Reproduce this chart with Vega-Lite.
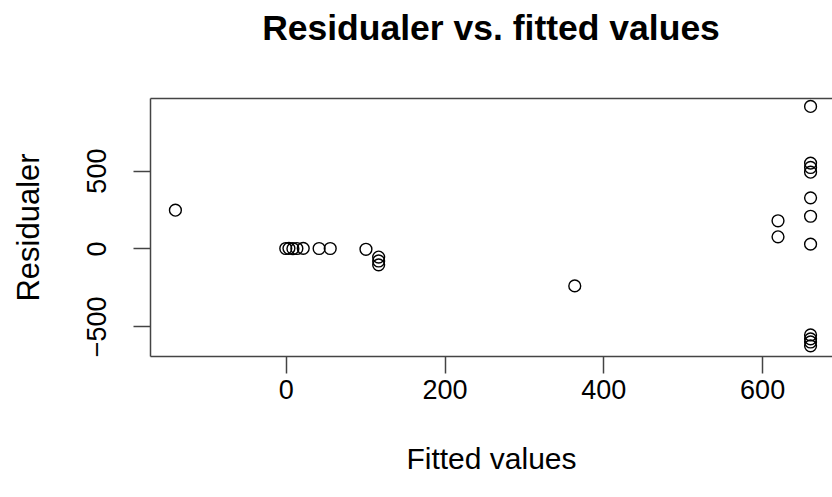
{
  "$schema": "https://vega.github.io/schema/vega-lite/v6.json",
  "autosize": {"type": "none"},
  "width": 682,
  "height": 258,
  "padding": {"left": 150, "top": 98, "right": 0, "bottom": 141},
  "background": "white",
  "config": {
    "view": {"stroke": null},
    "font": "Liberation Sans"
  },
  "title": {
    "text": "Residualer vs. fitted values",
    "fontSize": 35.5,
    "fontWeight": "bold",
    "font": "Liberation Sans",
    "color": "black",
    "anchor": "middle",
    "offset": 50
  },
  "data": {
    "values": [
      {"fitted": -139, "resid": 246},
      {"fitted": 0, "resid": 0},
      {"fitted": 4, "resid": 1},
      {"fitted": 9, "resid": -1},
      {"fitted": 14, "resid": 0},
      {"fitted": 22, "resid": 1},
      {"fitted": 42, "resid": 0},
      {"fitted": 56, "resid": 0},
      {"fitted": 101, "resid": -5},
      {"fitted": 117, "resid": -55},
      {"fitted": 117, "resid": -80},
      {"fitted": 117, "resid": -105},
      {"fitted": 364, "resid": -240},
      {"fitted": 620, "resid": 178},
      {"fitted": 620, "resid": 75},
      {"fitted": 661, "resid": 912},
      {"fitted": 661, "resid": 548},
      {"fitted": 661, "resid": 520},
      {"fitted": 661, "resid": 490},
      {"fitted": 661, "resid": 325},
      {"fitted": 661, "resid": 207},
      {"fitted": 661, "resid": 28},
      {"fitted": 661, "resid": -555},
      {"fitted": 661, "resid": -580},
      {"fitted": 661, "resid": -600},
      {"fitted": 661, "resid": -625}
    ]
  },
  "layer": [
    {
      "mark": {"type": "point", "shape": "circle", "filled": false, "size": 140, "stroke": "black", "strokeWidth": 1.4, "opacity": 1},
      "encoding": {
        "x": {
          "field": "fitted", "type": "quantitative",
          "scale": {"domain": [-171, 688], "nice": false, "zero": false},
          "axis": {
            "values": [0, 200, 400, 600],
            "title": "Fitted values",
            "grid": false,
            "domainColor": "#444", "domainWidth": 1.5,
            "tickColor": "#444", "tickWidth": 1.5, "tickSize": 17,
            "labelFontSize": 27, "labelColor": "black", "labelPadding": 4,
            "labelFont": "Liberation Sans",
            "titleFontSize": 30, "titleFontWeight": "normal", "titleColor": "black",
            "titleFont": "Liberation Sans",
            "titleBaseline": "middle", "titleY": 103
          }
        },
        "y": {
          "field": "resid", "type": "quantitative",
          "scale": {"domain": [-690, 966], "nice": false, "zero": false},
          "axis": {
            "values": [-500, 0, 500],
            "title": "Residualer",
            "grid": false,
            "domainColor": "#444", "domainWidth": 1.5,
            "tickColor": "#444", "tickWidth": 1.5, "tickSize": 17,
            "labelFontSize": 27, "labelColor": "black",
            "labelFont": "Liberation Sans",
            "labelAngle": -90, "labelAlign": "center", "labelBaseline": "bottom",
            "labelPadding": 22,
            "titleFontSize": 31, "titleFontWeight": "normal", "titleColor": "black",
            "titleFont": "Liberation Sans",
            "titleAngle": -90, "titleAlign": "center", "titleBaseline": "middle",
            "titleX": -121, "titleY": 129
          }
        }
      }
    },
    {
      "mark": {"type": "point", "opacity": 0},
      "encoding": {
        "x": {
          "field": "fitted", "type": "quantitative",
          "axis": {"orient": "top", "labels": false, "ticks": false, "title": null, "grid": false,
                   "domainColor": "#444", "domainWidth": 1.5}
        },
        "y": {"field": "resid", "type": "quantitative"}
      }
    }
  ],
  "resolve": {"axis": {"x": "independent"}}
}
